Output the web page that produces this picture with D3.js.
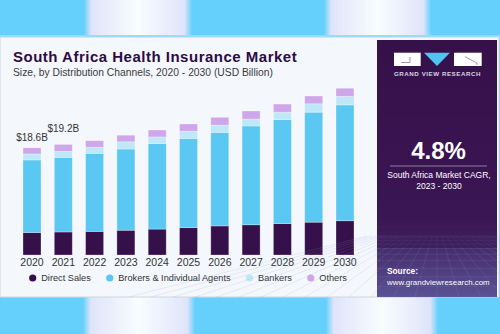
<!DOCTYPE html>
<html>
<head>
<meta charset="utf-8">
<script src="https://cdn.jsdelivr.net/npm/d3@7"></script>
<style>
  html, body { margin: 0; padding: 0; background: #66d0fc; }
  svg { display: block; font-family: "Liberation Sans", Arial, sans-serif; }
</style>
</head>
<body>
<script>
// market size by channel, USD billion
var years = ["2020", "2021", "2022", "2023", "2024", "2025", "2026", "2027", "2028", "2029", "2030"]
var directSales = [3.9, 4.0, 4.1, 4.3, 4.5, 4.75, 5.05, 5.25, 5.45, 5.7, 5.95]
var brokersAgents = [12.6, 12.95, 13.55, 14.1, 14.85, 15.5, 16.25, 17.15, 18.05, 19.1, 20.1]
var bankers = [1.05, 1.05, 1.05, 1.25, 1.15, 1.25, 1.25, 1.2, 1.3, 1.45, 1.5]
var others = [1.05, 1.2, 1.15, 1.15, 1.2, 1.25, 1.35, 1.4, 1.4, 1.35, 1.4]
var seriesNames = ["Direct Sales", "Brokers & Individual Agents", "Bankers", "Others"]
var seriesColors = ["#36104a", "#5ac8f2", "#bee8f9", "#cfa6ea"]
var valueLabels = {"2020": "$18.6B", "2021": "$19.2B"}

var W = 500, H = 334

var svg = d3.select("body").append("svg")
    .attr("width", W)
    .attr("height", H)

var defs = svg.append("defs")
var stripe = defs.append("linearGradient").attr("id", "stripe")
stripe.selectAll("stop")
    .data([[0, "#66d0fc"], [0.07, "#e0e4fa"], [0.5, "#f8fdff"], [0.93, "#e0e4fa"], [1, "#66d0fc"]])
    .enter().append("stop")
    .attr("offset", function(d) { return d[0] })
    .attr("stop-color", function(d) { return d[1] })

var panelGrad = defs.append("linearGradient").attr("id", "panelGrad")
    .attr("x1", 0).attr("y1", 0).attr("x2", 0).attr("y2", 1)
panelGrad.selectAll("stop")
    .data([[0, "#361049"], [0.7, "#3a1654"], [1, "#5a5294"]])
    .enter().append("stop")
    .attr("offset", function(d) { return d[0] })
    .attr("stop-color", function(d) { return d[1] })

// backdrop with soft white bands
svg.append("rect").attr("width", W).attr("height", H).attr("fill", "#66d0fc")
;[[84, 0, 108, 36], [324, 0, 107, 36], [83, 297, 112, 37], [326, 297, 112, 37]].forEach(function(s) {
    svg.append("rect")
        .attr("x", s[0]).attr("y", s[1]).attr("width", s[2]).attr("height", s[3])
        .attr("fill", "url(#stripe)")
})

// card
svg.append("rect")
    .attr("x", 0).attr("y", 36).attr("width", 499).attr("height", 261)
    .attr("fill", "#f4f8fc")
    .attr("stroke", "#cfd6dc").attr("stroke-width", 1)
svg.append("rect")
    .attr("x", 0).attr("y", 35).attr("width", 500).attr("height", 2.5)
    .attr("fill", "#9fdaf5")

svg.append("text")
    .attr("x", 13).attr("y", 62)
    .attr("font-size", 15).attr("font-weight", "bold")
    .attr("letter-spacing", 0.5)
    .attr("fill", "#2d0b44")
    .text("South Africa Health Insurance Market")

svg.append("text")
    .attr("x", 13).attr("y", 75.5)
    .attr("font-size", 10.3).attr("fill", "#3a3a3a")
    .text("Size, by Distribution Channels, 2020 - 2030 (USD Billion)")

// stacked bars
var x = d3.scaleBand()
    .domain(years)
    .range([9.7, 367.3])
    .padding(0.425)

var y = d3.scaleLinear()
    .domain([0, 30])
    .range([255, 82.2])

var table = years.map(function(yr, i) {
    return {
        year: yr,
        "Direct Sales": directSales[i],
        "Brokers & Individual Agents": brokersAgents[i],
        "Bankers": bankers[i],
        "Others": others[i]
    }
})

var stack = d3.stack().keys(seriesNames)(table)
var color = d3.scaleOrdinal().domain(seriesNames).range(seriesColors)

var layers = svg.append("g").selectAll("g")
    .data(stack)
    .enter().append("g")
    .attr("fill", function(d) { return color(d.key) })

layers.selectAll("rect")
    .data(function(d) { return d })
    .enter().append("rect")
    .attr("x", function(d) { return x(d.data.year) })
    .attr("y", function(d) { return y(d[1]) })
    .attr("width", x.bandwidth())
    .attr("height", function(d) { return y(d[0]) - y(d[1]) })
    .attr("stroke", "rgba(255,255,255,0.35)")
    .attr("stroke-width", 0.8)

// totals for the first two years
var labelLift = {"2020": 7, "2021": 12}
svg.append("g").selectAll("text")
    .data(table.filter(function(d) { return valueLabels[d.year] }))
    .enter().append("text")
    .attr("x", function(d) { return x(d.year) + x.bandwidth() / 2 })
    .attr("y", function(d) {
        var total = d3.sum(seriesNames, function(k) { return d[k] })
        return y(total) - labelLift[d.year]
    })
    .attr("text-anchor", "middle")
    .attr("font-size", 10)
    .attr("fill", "#333")
    .text(function(d) { return valueLabels[d.year] })

var xAxis = svg.append("g")
    .attr("transform", "translate(0,255)")
    .call(d3.axisBottom(x).tickSize(0).tickPadding(3.5))
xAxis.select(".domain").remove()
xAxis.selectAll("text")
    .attr("font-size", 10.5)
    .attr("font-family", "Liberation Sans, Arial, sans-serif")
    .attr("fill", "#333")

// legend, centred under the bars
var legend = svg.append("g").attr("transform", "translate(0,281)")
var items = legend.selectAll("g")
    .data(seriesNames)
    .enter().append("g")
items.append("circle")
    .attr("r", 3.6)
    .attr("cy", -3)
    .attr("fill", function(d) { return color(d) })
items.append("text")
    .attr("x", 8.5)
    .attr("font-size", 9.2)
    .attr("fill", "#333")
    .text(function(d) { return d })

var cursor = 0
items.each(function() {
    var g = d3.select(this)
    g.attr("transform", "translate(" + cursor + ",0)")
    cursor += 8.5 + g.select("text").node().getComputedTextLength() + 19
})
var legendWidth = cursor - 19 + 3.6
legend.attr("transform", "translate(" + (188 - legendWidth / 2 + 3.6) + ",281)")

// side panel
var panel = svg.append("g")
panel.append("rect")
    .attr("x", 377).attr("y", 40).attr("width", 120).attr("height", 257)
    .attr("fill", "url(#panelGrad)")

// perspective floor grid
var grid = panel.append("g")
    .attr("stroke", "#8b8fd0")
    .attr("stroke-opacity", 0.28)
    .attr("stroke-width", 0.6)
var horizon = 236, floor = 297
d3.range(0, 12).forEach(function(i) {
    var t = i / 11
    var gy = horizon + (floor - horizon) * t * t
    grid.append("line").attr("x1", 377).attr("x2", 497).attr("y1", gy).attr("y2", gy)
})
d3.range(-14, 15).forEach(function(i) {
    grid.append("line")
        .attr("x1", 437 + i * 5).attr("y1", horizon)
        .attr("x2", 437 + i * 22).attr("y2", floor)
})
panel.append("rect")
    .attr("x", 377).attr("y", 228).attr("width", 120).attr("height", 20)
    .attr("fill", "#3a1654").attr("opacity", 0.5)

// logo
var logo = panel.append("g")
logo.append("rect").attr("x", 394).attr("y", 52.7).attr("width", 26.7).attr("height", 13.3).attr("fill", "#fff")
logo.append("rect").attr("x", 454).attr("y", 52.7).attr("width", 27.7).attr("height", 13.3).attr("fill", "#fff")
logo.append("path").attr("d", "M424,52.7 L450,52.7 L437,66 Z").attr("fill", "#4fc4f0")
logo.append("path")
    .attr("d", "M401,62.5 L410,62.5 L410,57")
    .attr("fill", "none").attr("stroke", "#7a6a8a").attr("stroke-width", 0.7)
logo.append("path")
    .attr("d", "M465,56.7 L477,63 L477,65")
    .attr("fill", "none").attr("stroke", "#7a6a8a").attr("stroke-width", 0.7)
logo.append("text")
    .attr("x", 437.5).attr("y", 76)
    .attr("text-anchor", "middle")
    .attr("font-size", 6.2).attr("font-weight", "bold")
    .attr("letter-spacing", 0.55)
    .attr("fill", "#d8d4e0")
    .text("GRAND VIEW RESEARCH")

panel.append("text")
    .attr("x", 438.5).attr("y", 158.5)
    .attr("text-anchor", "middle")
    .attr("font-size", 24).attr("font-weight", "bold")
    .attr("fill", "#fff")
    .text("4.8%")
panel.append("line")
    .attr("x1", 390).attr("x2", 487).attr("y1", 166).attr("y2", 166)
    .attr("stroke", "#8e7ea0").attr("stroke-width", 1.2)
panel.append("text")
    .attr("x", 439).attr("y", 178)
    .attr("text-anchor", "middle")
    .attr("font-size", 8.5).attr("fill", "#fff")
    .text("South Africa Market CAGR,")
panel.append("text")
    .attr("x", 439).attr("y", 188.5)
    .attr("text-anchor", "middle")
    .attr("font-size", 8.5).attr("fill", "#fff")
    .text("2023 - 2030")

panel.append("text")
    .attr("x", 387).attr("y", 274)
    .attr("font-size", 8.3).attr("font-weight", "bold")
    .attr("fill", "#fff")
    .text("Source:")
panel.append("text")
    .attr("x", 387).attr("y", 285)
    .attr("font-size", 7.9).attr("fill", "#fff")
    .text("www.grandviewresearch.com")
</script>
</body>
</html>
